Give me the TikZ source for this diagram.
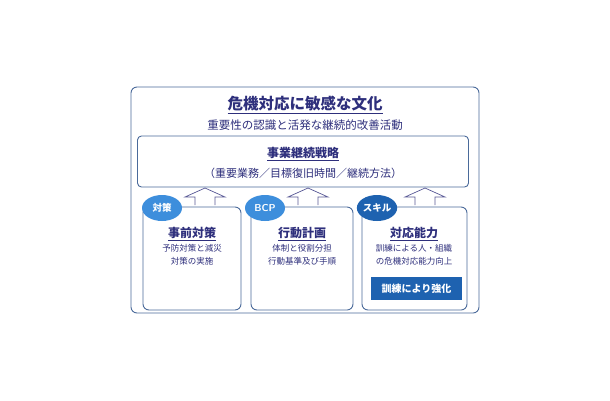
\documentclass[tikz,border=0pt]{standalone}
\usepackage{fontspec}
\newfontfamily\cjk{Noto Sans CJK JP}
\usetikzlibrary{shapes.geometric}
\definecolor{navy}{HTML}{2E2F7C}
\definecolor{frame}{HTML}{4A6A9A}
\definecolor{tagblue}{HTML}{3D8EDC}
\definecolor{tagdark}{HTML}{1E62B0}
\tikzset{
  panel/.style={draw=frame, line width=0.9pt, rounded corners=6pt, fill=white},
  tag/.style={ellipse, fill=tagblue, text=white, minimum width=40pt, minimum height=26pt, inner sep=0pt, font=\cjk\bfseries\fontsize{9.5}{10}\selectfont},
  uparrow/.style={draw=navy!80, fill=white, line width=0.7pt},
  head/.style={text=navy, font=\cjk\bfseries\fontsize{12}{13}\selectfont},
  body/.style={text=navy, align=center, font=\cjk\fontsize{8.5}{12.5}\selectfont}
}
\begin{document}
\begin{tikzpicture}[x=1pt,y=-1pt]
\useasboundingbox (0,0) rectangle (610,400);
\node[panel, minimum width=348pt, minimum height=226pt] (culture) at (305,200) {};
\node[text=navy, font=\cjk\bfseries\fontsize{15.5}{16}\selectfont] (title) at (305,105) {\underline{危機対応に敏感な文化}};
\node[text=navy, font=\cjk\fontsize{11.5}{12}\selectfont] (sub) at (305,125) {重要性の認識と活発な継続的改善活動};
\node[panel, rounded corners=4pt, minimum width=331pt, minimum height=51pt] (strategy) at (303,161.5) {};
\node[head] (st) at (303,154) {\underline{事業継続戦略}};
\node[text=navy, font=\cjk\fontsize{11}{12}\selectfont] (stsub) at (303,173) {（重要業務／目標復旧時間／継続方法）};
% three columns
\node[panel, minimum width=98pt, minimum height=103pt] (pre) at (192,258.5) {};
\node[panel, minimum width=102pt, minimum height=103pt] (plan) at (302,258.5) {};
\node[panel, minimum width=105pt, minimum height=103pt] (skill) at (414.5,258.5) {};
\foreach \n/\x in {a1/205, a2/308, a3/425}
  \draw[uparrow] (\x-10,205) -- (\x-10,197) -- (\x-20,197) -- (\x,188) -- (\x+20,197) -- (\x+10,197) -- (\x+10,205);
\node[tag] (t1) at (162,208) {対策};
\node[tag, font=\sffamily\bfseries\fontsize{10}{10}\selectfont] (t2) at (265,208) {BCP};
\node[tag, fill=tagdark] (t3) at (377,208) {スキル};
\node[head] (h1) at (192,234) {\underline{事前対策}};
\node[body] (b1) at (192,255) {予防対策と減災\\対策の実施};
\node[head] (h2) at (302,234) {\underline{行動計画}};
\node[body] (b2) at (302,255) {体制と役割分担\\行動基準及び手順};
\node[head] (h3) at (414,234) {\underline{対応能力}};
\node[body] (b3) at (414,255) {訓練による人・組織\\の危機対応能力向上};
\node[fill=tagdark, text=white, minimum width=91pt, minimum height=23pt, font=\cjk\bfseries\fontsize{10}{10}\selectfont] (train) at (416.5,288.5) {訓練により強化};
\end{tikzpicture}
\end{document}
